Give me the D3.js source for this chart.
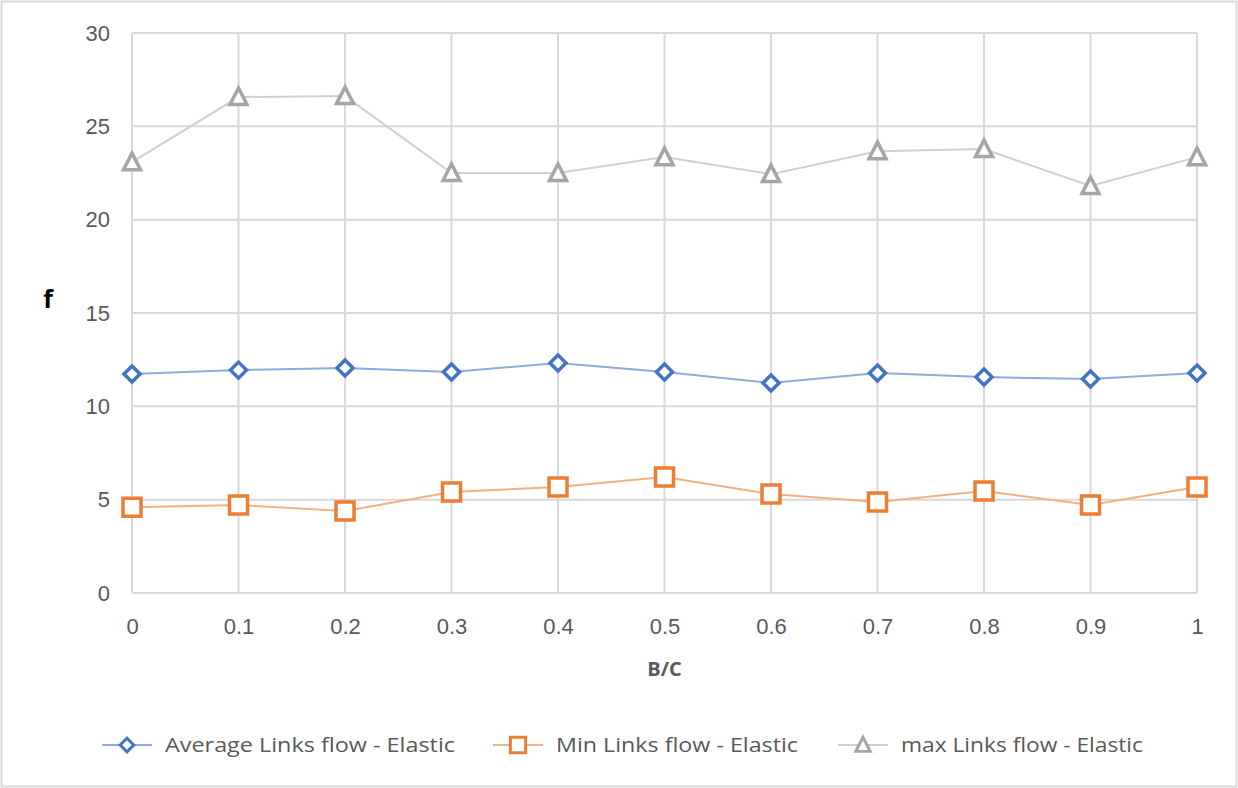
<!DOCTYPE html>
<html>
<head>
<meta charset="utf-8">
<script src="https://cdn.jsdelivr.net/npm/d3@7"></script>
<style>
  body { margin: 0; background: #fff; }
  svg { font-family: "Open Sans", "Noto Sans", sans-serif; }
</style>
</head>
<body>
<div id="chart"></div>
<script>
// Data
const categories = [0, 0.1, 0.2, 0.3, 0.4, 0.5, 0.6, 0.7, 0.8, 0.9, 1];
const xTickLabels = ["0", "0.1", "0.2", "0.3", "0.4", "0.5", "0.6", "0.7", "0.8", "0.9", "1"];
const yTicks = [0, 5, 10, 15, 20, 25, 30];
const avgFlow = [11.73, 11.94, 12.05, 11.84, 12.32, 11.84, 11.25, 11.78, 11.57, 11.46, 11.78];
const minFlow = [4.6, 4.71, 4.39, 5.41, 5.68, 6.21, 5.3, 4.87, 5.46, 4.71, 5.68];
const maxFlow = [23.08, 26.57, 26.62, 22.5, 22.5, 23.35, 22.44, 23.67, 23.78, 21.8, 23.35];

const series = [
  { name: "Average Links flow - Elastic", values: avgFlow, marker: "diamond", color: "#4472C4", line: "#8FAADC" },
  { name: "Min Links flow - Elastic", values: minFlow, marker: "square", color: "#ED7D31", line: "#F4B183" },
  { name: "max Links flow - Elastic", values: maxFlow, marker: "triangle", color: "#A5A5A5", line: "#D0D0D0" }
];

const W = 1238, H = 788;
const margin = { top: 33, right: 41, bottom: 195, left: 132 };
const width = W - margin.left - margin.right;
const height = H - margin.top - margin.bottom;

const svg = d3.select("#chart").append("svg").attr("width", W).attr("height", H);

// Outer chart border
svg.append("rect")
  .attr("x", 1.5).attr("y", 1.5)
  .attr("width", W - 3).attr("height", H - 3)
  .attr("fill", "#fff")
  .attr("stroke", "#d9d9d9")
  .attr("stroke-width", 2);

const g = svg.append("g").attr("transform", `translate(${margin.left},${margin.top})`);

const x = d3.scaleLinear().domain([0, 1]).range([0, width]);
const y = d3.scaleLinear().domain([0, 30]).range([height, 0]);

// Gridlines
g.append("g")
  .selectAll("line")
  .data(yTicks)
  .join("line")
  .attr("x1", 0).attr("x2", width)
  .attr("y1", d => y(d)).attr("y2", d => y(d))
  .attr("stroke", "#d9d9d9").attr("stroke-width", 2);

g.append("g")
  .selectAll("line")
  .data(categories)
  .join("line")
  .attr("x1", d => x(d)).attr("x2", d => x(d))
  .attr("y1", 0).attr("y2", height)
  .attr("stroke", "#d9d9d9").attr("stroke-width", 2);

// Axes (labels only)
const xAxis = g.append("g")
  .attr("transform", `translate(0,${height})`)
  .call(d3.axisBottom(x).tickValues(categories).tickSize(0).tickPadding(25)
    .tickFormat((d, i) => xTickLabels[i]));
const yAxis = g.append("g")
  .call(d3.axisLeft(y).tickValues(yTicks).tickSize(0).tickPadding(22));

[xAxis, yAxis].forEach(a => {
  a.select(".domain").remove();
  a.selectAll("text").attr("fill", "#595959").style("font-size", "22px");
});

// Axis titles
svg.append("text")
  .attr("x", margin.left + width / 2)
  .attr("y", 676)
  .attr("text-anchor", "middle")
  .attr("fill", "#595959")
  .style("font-size", "20px")
  .style("font-weight", "bold")
  .text("B/C");

svg.append("text")
  .attr("x", 48)
  .attr("y", 308)
  .attr("text-anchor", "middle")
  .attr("fill", "#000")
  .style("font-size", "25px")
  .style("font-weight", "bold")
  .text("f");

// Marker shapes
function markerPath(type) {
  if (type === "diamond") return "M0,-8L8,0L0,8L-8,0Z";
  if (type === "square") return "M-9,-9H9V9H-9Z";
  return "M0,-9L8.5,7.5H-8.5Z";
}

const line = d3.line().x((d, i) => x(categories[i])).y(d => y(d));

series.forEach(s => {
  g.append("path")
    .datum(s.values)
    .attr("d", line)
    .attr("fill", "none")
    .attr("stroke", s.line)
    .attr("stroke-width", 2);

  g.selectAll(null)
    .data(s.values)
    .join("path")
    .attr("transform", (d, i) => `translate(${x(categories[i])},${y(d)})`)
    .attr("d", markerPath(s.marker))
    .attr("fill", "#fff")
    .attr("stroke", s.color)
    .attr("stroke-width", 3.5);
});

// Legend
const legendX = [102, 493, 838];
const legendTextWidth = [290, 242, 242];
const legend = svg.append("g").attr("transform", "translate(0,745)");
series.forEach((s, i) => {
  const lg = legend.append("g").attr("transform", `translate(${legendX[i]},0)`);
  lg.append("line")
    .attr("x1", 0).attr("x2", 50)
    .attr("y1", 0).attr("y2", 0)
    .attr("stroke", s.line).attr("stroke-width", 2);
  lg.append("path")
    .attr("transform", "translate(25,0) scale(0.85)")
    .attr("d", markerPath(s.marker))
    .attr("fill", "#fff")
    .attr("stroke", s.color)
    .attr("stroke-width", 3.5);
  lg.append("text")
    .attr("x", 63)
    .attr("y", 0)
    .attr("dy", "0.35em")
    .attr("fill", "#595959")
    .attr("textLength", legendTextWidth[i])
    .attr("lengthAdjust", "spacingAndGlyphs")
    .style("font-size", "20px")
    .text(s.name);
});
</script>
</body>
</html>
